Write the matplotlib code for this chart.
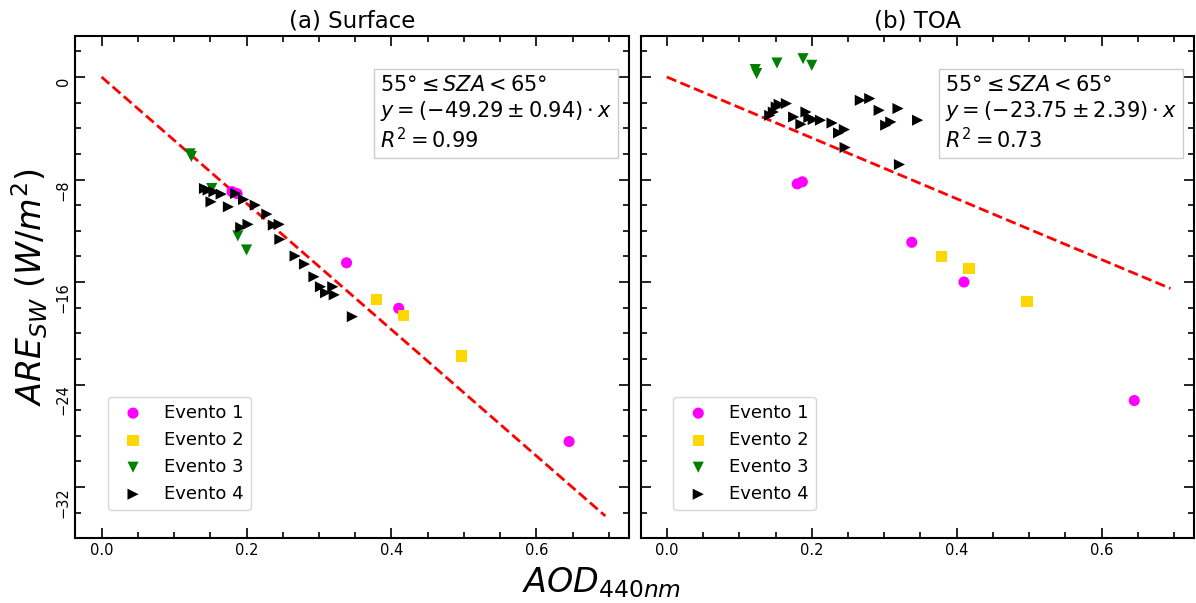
import numpy as np
import matplotlib
matplotlib.use("Agg")
import matplotlib.pyplot as plt
from matplotlib.ticker import MultipleLocator

# ---- data: AOD at 440 nm and shortwave radiative effect per event ----
aod_ev1 = [0.180, 0.187, 0.338, 0.410, 0.645]
sfc_ev1 = [-8.95, -9.10, -14.5, -18.05, -28.45]
toa_ev1 = [-8.34, -8.18, -12.9, -16.0, -25.25]

aod_ev2 = [0.379, 0.417, 0.497]
sfc_ev2 = [-17.35, -18.6, -21.77]
toa_ev2 = [-14.0, -14.92, -17.5]

aod_ev3 = [0.122, 0.124, 0.152, 0.188, 0.200]
sfc_ev3 = [-6.0, -6.2, -8.7, -12.4, -13.5]
toa_ev3 = [0.58, 0.27, 1.09, 1.43, 0.91]

aod_ev4 = [0.142, 0.147, 0.151, 0.155, 0.165, 0.175, 0.185, 0.192, 0.196,
           0.202, 0.212, 0.228, 0.237, 0.245, 0.246, 0.267, 0.280, 0.293,
           0.302, 0.309, 0.319, 0.321, 0.346]
sfc_ev4 = [-8.70, -8.83, -9.74, -8.96, -9.14, -10.13, -9.09, -11.74, -9.56,
           -11.5, -10.0, -10.7, -11.56, -11.5, -12.67, -13.97, -14.6, -15.59,
           -16.37, -16.84, -16.37, -17.0, -18.7]
toa_ev4 = [-2.99, -2.73, -2.34, -2.13, -2.07, -3.12, -3.69, -2.73, -3.16,
           -3.32, -3.37, -3.59, -4.36, -4.10, -5.50, -1.82, -1.68, -2.60,
           -3.76, -3.51, -2.46, -6.83, -3.37]

# fitted slopes (y = a*x), their uncertainties and R^2
slope_sfc, err_sfc, r2_sfc = -49.29, 0.94, 0.99
slope_toa, err_toa, r2_toa = -23.75, 2.39, 0.73

event_labels = ["Evento 1", "Evento 2", "Evento 3", "Evento 4"]
event_colors = ["magenta", "gold", "green", "black"]
event_markers = ["o", "s", "v", ">"]
panel_titles = ["(a) Surface", "(b) TOA"]
sza_label = r"$55\degree \leq SZA < 65\degree$"

W, H = 1196, 603
fig = plt.figure(figsize=(W / 100, H / 100), dpi=100)

ax_l = fig.add_axes([0.0631, 0.1073, 0.4630, 0.8330])
ax_r = fig.add_axes([0.5357, 0.1073, 0.4630, 0.8330], sharey=ax_l)

aod_all = aod_ev1 + aod_ev2 + aod_ev3 + aod_ev4
x_fit = np.linspace(0, max(aod_all) + 0.05, 100)

panels = [
    (ax_l, [sfc_ev1, sfc_ev2, sfc_ev3, sfc_ev4], slope_sfc, err_sfc, r2_sfc),
    (ax_r, [toa_ev1, toa_ev2, toa_ev3, toa_ev4], slope_toa, err_toa, r2_toa),
]
aods = [aod_ev1, aod_ev2, aod_ev3, aod_ev4]

for (ax, ys, a, da, r2), title in zip(panels, panel_titles):
    for xv, yv, lab, col, mk in zip(aods, ys, event_labels, event_colors, event_markers):
        ax.scatter(xv, yv, s=64, c=col, marker=mk, label=lab, edgecolors="none", zorder=3)
    ax.plot(x_fit, a * x_fit, ls="--", color="red", lw=2, zorder=2)

    ax.set_xlim(-0.036, 0.728)
    ax.set_ylim(-36, 3.2)
    ax.xaxis.set_major_locator(MultipleLocator(0.2))
    ax.xaxis.set_minor_locator(MultipleLocator(0.05))
    ax.yaxis.set_major_locator(MultipleLocator(8))
    ax.yaxis.set_minor_locator(MultipleLocator(2))
    ax.tick_params(which="both", direction="in", top=True, right=True,
                   labelsize=10.5, width=1.2)
    ax.tick_params(which="major", length=7)
    ax.tick_params(which="minor", length=4)
    for sp in ax.spines.values():
        sp.set_linewidth(1.5)

    ax.set_title(title, fontsize=16.5)

    txt = (sza_label + "\n"
           + r"$y = (%.2f \pm %.2f) \cdot x$" % (a, da) + "\n"
           + r"$R^2 = %.2f$" % r2)
    ax.text(0.55, 0.922, txt, transform=ax.transAxes, ha="left", va="top",
            fontsize=15, linespacing=1.2,
            bbox=dict(boxstyle="square,pad=0.3", fc="white", ec="#cccccc", lw=1))

    ax.legend(loc="lower left", bbox_to_anchor=(0.042, 0.038), fontsize=13,
              handletextpad=0.7)

ax_l.tick_params(axis="y", labelrotation=90)
for lbl in ax_l.get_yticklabels():
    lbl.set_verticalalignment("top")
plt.setp(ax_r.get_yticklabels(), visible=False)

ax_l.set_ylabel(r"$ARE_{SW}\ (W/m^2)$", fontsize=24)
fig.text(0.503, 0.005, r"$AOD_{440nm}$", fontsize=24, ha="center", va="bottom")

fig.savefig("out.png", dpi=100)
